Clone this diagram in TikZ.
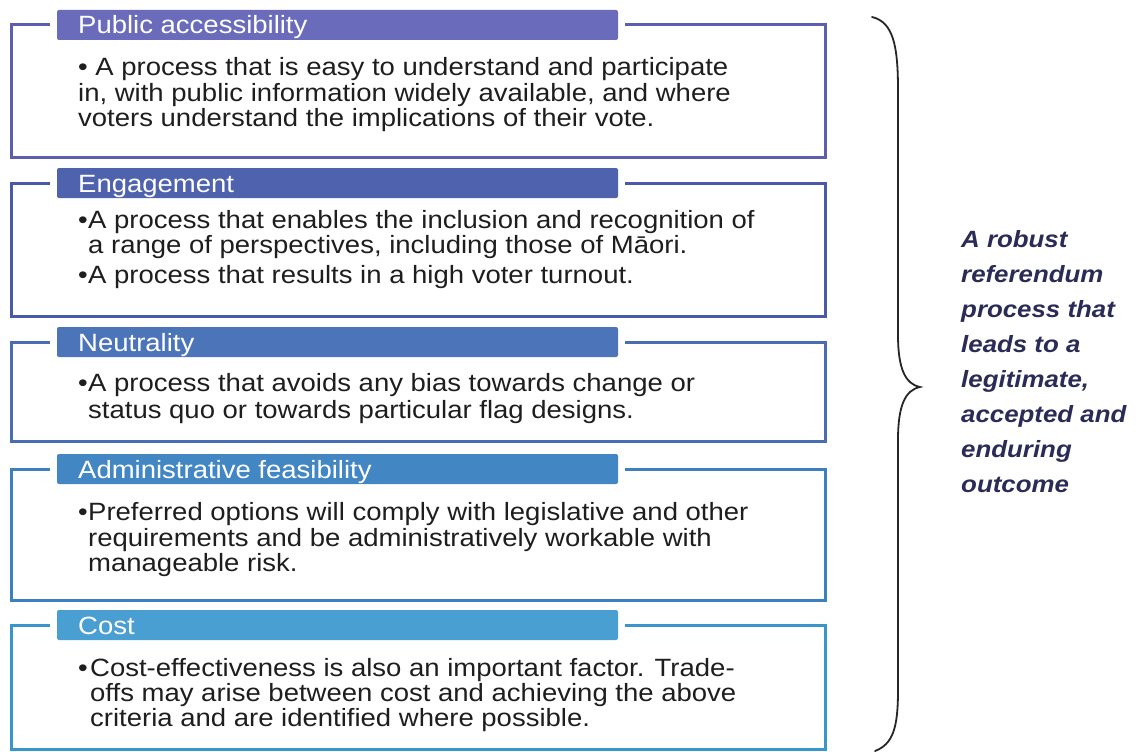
\documentclass[tikz,border=0pt]{standalone}
\usepackage{fontspec}
\setmainfont[FakeStretch=1.1]{Liberation Sans}
\usetikzlibrary{calc}
\definecolor{fa}{HTML}{5E5EAE}\definecolor{ha}{HTML}{6B6BBB}
\definecolor{fb}{HTML}{4A5AA6}\definecolor{hb}{HTML}{4F62AE}
\definecolor{fc}{HTML}{4A6DB2}\definecolor{hc}{HTML}{4C74B8}
\definecolor{fd}{HTML}{3D7FBF}\definecolor{hd}{HTML}{4386C4}
\definecolor{fe}{HTML}{3A95CA}\definecolor{he}{HTML}{4A9FD2}
\definecolor{bodytext}{HTML}{1E1E1E}
\definecolor{navy}{HTML}{2B2B58}
\tikzset{
  frameline/.style={line width=3pt, line join=miter},
  headtab/.style={rounded corners=2pt},
  headtext/.style={anchor=base west, inner sep=0pt, text=white, font=\fontsize{25}{26}\selectfont},
  bodyline/.style={anchor=base west, inner sep=0pt, text=bodytext, font=\fontsize{25}{26}\selectfont},
  goaltext/.style={anchor=north west, inner sep=0pt, text=navy, align=left, font=\fontsize{23.5}{35}\selectfont\bfseries\itshape},
  bracestyle/.style={line width=1.8pt, draw=black!85, line cap=round}
}
\newcommand{\critbox}[6]{% name, frame colour, header colour, top, bottom, title
  \draw[frameline, draw=#2] (50,#4) -- (11,#4) -- (11,#5) -- (825,#5) -- (825,#4) -- (625,#4);
  \fill[headtab, fill=#3] (57,#4-15) rectangle (618,#4+15);
  \node[headtext] (#1h) at (78,#4+9) {#6};
}
\begin{document}
\begin{tikzpicture}[x=1pt,y=-1pt]
\useasboundingbox (0,0) rectangle (1138,752);
\fill[white] (0,0) rectangle (1138,752);

\critbox{a}{fa}{ha}{25}{157}{Public accessibility}
\critbox{b}{fb}{hb}{183}{316}{Engagement}
\critbox{c}{fc}{hc}{342}{441}{Neutrality}
\critbox{d}{fd}{hd}{469}{600}{Administrative feasibility}
\critbox{e}{fe}{he}{625}{749}{Cost}

% box 1
\node[bodyline] (a1) at (78,76) {• A process that is easy to understand and participate};
\node[bodyline] (a2) at (78,101) {in, with public information widely available, and where};
\node[bodyline] (a3) at (78,126) {voters understand the implications of their vote.};
% box 2
\node[bodyline] (b0) at (78,228) {•};
\node[bodyline] (b1) at (88,228) {A process that enables the inclusion and recognition of};
\node[bodyline] (b2) at (88,253) {a range of perspectives, including those of Māori.};
\node[bodyline] (b3) at (78,283) {•};
\node[bodyline] (b4) at (88,283) {A process that results in a high voter turnout.};
% box 3
\node[bodyline] (c0) at (78,391) {•};
\node[bodyline] (c1) at (88,391) {A process that avoids any bias towards change or};
\node[bodyline] (c2) at (88,418) {status quo or towards particular flag designs.};
% box 4
\node[bodyline] (d0) at (78,520) {•};
\node[bodyline] (d1) at (88,520) {Preferred options will comply with legislative and other};
\node[bodyline] (d2) at (88,546) {requirements and be administratively workable with};
\node[bodyline] (d3) at (88,571) {manageable risk.};
% box 5
\node[bodyline] (e0) at (78,676) {•};
\node[bodyline] (e1) at (90,676) {Cost-effectiveness is also an important factor. Trade-};
\node[bodyline] (e2) at (90,701) {offs may arise between cost and achieving the above};
\node[bodyline] (e3) at (90,726) {criteria and are identified where possible.};

% brace
\draw[bracestyle] (872,17) .. controls (893,22) and (898,45) .. (898,90)
  -- (898,335) .. controls (898,368) and (905,384) .. (920,387)
  .. controls (905,390) and (898,406) .. (898,440)
  -- (898,690) .. controls (898,728) and (893,744) .. (875,751);

% goal
\node[goaltext] (goal) at (961,230) {A robust\\referendum\\process that\\leads to a\\legitimate,\\accepted and\\enduring\\outcome};
\end{tikzpicture}
\end{document}
